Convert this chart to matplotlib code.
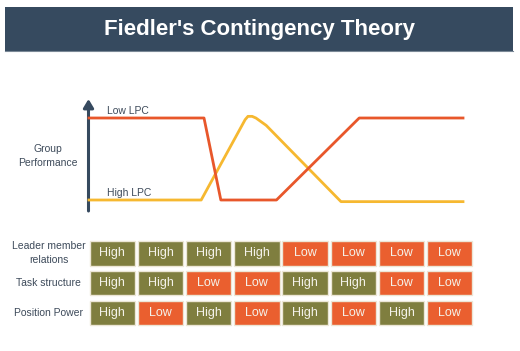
import matplotlib
matplotlib.use("Agg")
import matplotlib.pyplot as plt
from matplotlib.patches import Rectangle

plt.rcParams["font.family"] = ["Liberation Sans", "DejaVu Sans"]

# performance curves: x = situation (0..8), y = group performance (0 low .. 1 high)
low_lpc_x = [0, 2.46, 2.82, 4.01, 5.78, 8]
low_lpc_y = [1, 1, 0, 0, 1, 1]
high_lpc_x = [0, 2.40, 3.34, 3.40, 3.49, 3.57, 3.79, 5.39, 8]
high_lpc_y = [0, 0, 0.98, 1.02, 1.02, 1.0, 0.91, -0.02, -0.02]

row_names = ["Leader member\nrelations", "Task structure", "Position Power"]
leader_member = ["High", "High", "High", "High", "Low", "Low", "Low", "Low"]
task_structure = ["High", "High", "Low", "Low", "High", "High", "Low", "Low"]
position_power = ["High", "Low", "High", "Low", "High", "Low", "High", "Low"]

navy = "#364a5f"
text_col = "#3d4a5a"
cell_colors = {"High": "#7f7e3f", "Low": "#ea5f2f"}

W, H = 520, 351
fig = plt.figure(figsize=(W / 100, H / 100), dpi=100)
bg = fig.add_axes([0, 0, 1, 1])
bg.set_xlim(0, W)
bg.set_ylim(H, 0)
bg.axis("off")

# title banner
bg.add_patch(Rectangle((5, 7), 508, 44, facecolor=navy, edgecolor="none"))
bg.plot([5, 513], [50.5, 50.5], color="#7a8896", lw=0.8)
bg.text(259, 29, "Fiedler's Contingency Theory", color="white", fontsize=16,
        fontweight="bold", ha="center", va="center")

# y axis arrow
bg.annotate("", xy=(88.5, 99), xytext=(88.5, 211),
            arrowprops=dict(arrowstyle="-|>,head_length=0.5,head_width=0.3",
                            color=navy, lw=2.2, shrinkA=0, shrinkB=0))
bg.text(48, 155.5, "Group\nPerformance", color=text_col, fontsize=7.5,
        ha="center", va="center", linespacing=1.5)

# lines in their own axes
ax = fig.add_axes([89 / W, 1 - 200 / H, (463 - 89) / W, 82 / H])
ax.set_xlim(0, 8)
ax.set_ylim(0, 1)
ax.axis("off")
ax.plot(high_lpc_x, high_lpc_y, color="#f6b830", lw=2, clip_on=False)
ax.plot(low_lpc_x, low_lpc_y, color="#e8572b", lw=2, clip_on=False)
bg.text(107, 111, "Low LPC", color=text_col, fontsize=7.5, va="center")
bg.text(107, 193, "High LPC", color=text_col, fontsize=7.5, va="center")

# condition table
rows = [leader_member, task_structure, position_power]
x0, y0 = 89.5, 241
cw, ch = 45.5, 24.5
dx, dy = 48.2, 29.8
for r, (name, vals) in enumerate(zip(row_names, rows)):
    cy = y0 + r * dy + ch / 2
    bg.text(48.5, cy, name, color=text_col, fontsize=7.5, ha="center",
            va="center", linespacing=1.5)
    for c, v in enumerate(vals):
        cx = x0 + c * dx
        bg.add_patch(Rectangle((cx, y0 + r * dy), cw, ch, facecolor=cell_colors[v],
                               edgecolor="#ece6d6", lw=1))
        bg.text(cx + cw / 2, cy, v, color="#f4f2ea", fontsize=9,
                ha="center", va="center")

fig.savefig("out.png", dpi=100)
